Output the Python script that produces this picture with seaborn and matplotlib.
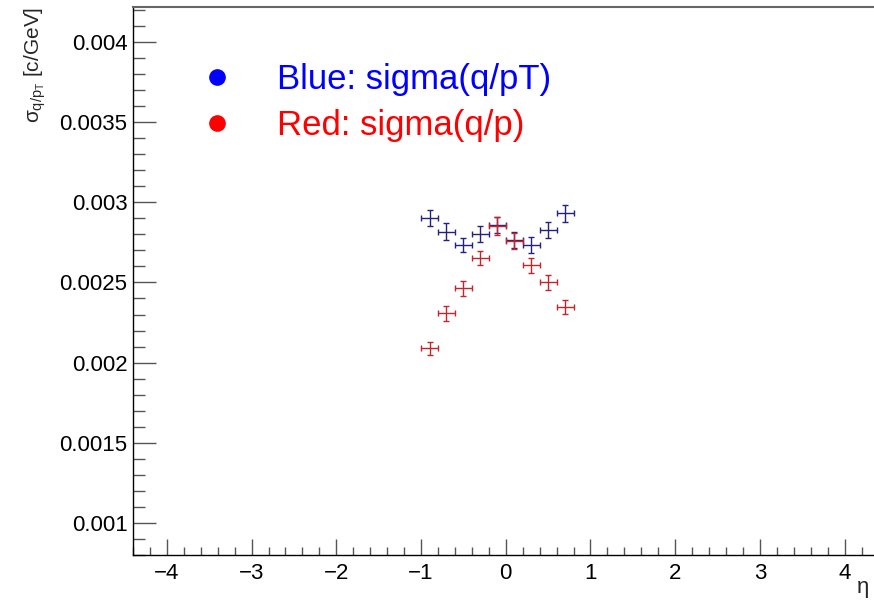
import seaborn as sns
import matplotlib.pyplot as plt
import matplotlib.ticker as mticker
from matplotlib.lines import Line2D
import pandas as pd

# данные: центры бинов по eta и разрешения
eta = [-0.9, -0.7, -0.5, -0.3, -0.1, 0.1, 0.3, 0.5, 0.7]
eta_halfwidth = [0.1] * 9
sigma_qpt = [0.002903, 0.002816, 0.002733, 0.002802, 0.002861,
             0.002764, 0.002733, 0.002827, 0.002931]
sigma_qpt_err = [0.000050, 0.000052, 0.000045, 0.000048, 0.000050,
                 0.000050, 0.000048, 0.000050, 0.000053]
sigma_qp = [0.002089, 0.002307, 0.002463, 0.002654, 0.002852,
            0.002758, 0.002608, 0.002501, 0.002345]
sigma_qp_err = [0.000040, 0.000047, 0.000045, 0.000045, 0.000055,
                0.000050, 0.000046, 0.000046, 0.000043]
legend_labels = ['Blue: sigma(q/pT)', 'Red: sigma(q/p)']

df = pd.DataFrame({'eta': eta, 'xerr': eta_halfwidth,
                   'qpt': sigma_qpt, 'qpt_err': sigma_qpt_err,
                   'qp': sigma_qp, 'qp_err': sigma_qp_err})

sns.set_theme(style="white")
plt.rcParams['font.family'] = ['Liberation Sans', 'DejaVu Sans']
plt.rcParams['mathtext.fontset'] = 'custom'
plt.rcParams['mathtext.rm'] = 'Liberation Sans'
plt.rcParams['mathtext.it'] = 'Liberation Sans'
plt.rcParams['axes.unicode_minus'] = True

fig = plt.figure(figsize=(8.74, 6.0), dpi=100)
ax = fig.add_axes([0.1522, 0.075, 0.8529, 0.9138])

blue = '#23237f'
red = '#c4242b'
ax.errorbar(df['eta'], df['qpt'], xerr=df['xerr'], yerr=df['qpt_err'],
            fmt='none', ecolor=blue, elinewidth=1.0, capsize=2.5, capthick=1.0)
ax.errorbar(df['eta'], df['qp'], xerr=df['xerr'], yerr=df['qp_err'],
            fmt='none', ecolor=red, elinewidth=1.0, capsize=2.5, capthick=1.0)

ax.set_xlim(-4.4, 4.4)
ax.set_ylim(0.0008, 0.00422)

ax.xaxis.set_major_locator(mticker.MultipleLocator(1))
ax.xaxis.set_minor_locator(mticker.MultipleLocator(0.2))
ax.yaxis.set_major_locator(mticker.MultipleLocator(0.0005))
ax.yaxis.set_minor_locator(mticker.MultipleLocator(0.0001))
ax.yaxis.set_major_formatter(mticker.FuncFormatter(lambda v, p: '%g' % v))

# тики внутрь, как в ROOT
ax.tick_params(axis='both', which='both', direction='in', color='#555555',
               width=1.0, labelsize=16, labelcolor='black',
               bottom=True, left=True, top=False, right=False)
ax.tick_params(axis='x', which='major', length=11.5, pad=6)
ax.tick_params(axis='x', which='minor', length=5.8)
ax.tick_params(axis='y', which='major', length=16.5, pad=4)
ax.tick_params(axis='y', which='minor', length=8.4)

for side in ['left', 'bottom']:
    ax.spines[side].set_color('black')
    ax.spines[side].set_linewidth(1.0)
ax.spines['top'].set_color('#666666')
ax.spines['top'].set_linewidth(1.5)
ax.spines['right'].set_visible(False)

ax.set_xlabel('η', fontsize=16, ha='right')
ax.xaxis.set_label_coords(0.988, -0.040)
ax.set_ylabel(r'$\sigma_{q/p_{T}}$ [c/GeV]', fontsize=15, loc='top', labelpad=8)

handles = [Line2D([], [], ls='none', marker='o', markersize=11, color='#0000ff'),
           Line2D([], [], ls='none', marker='o', markersize=11, color='#ff0000')]
ax.legend(handles, legend_labels, loc='upper left', bbox_to_anchor=(0.09, 0.897),
          frameon=False, fontsize=25, labelcolor=['#0000ff', '#ff0000'],
          handlelength=1.0, handletextpad=1.2, labelspacing=0.38,
          borderpad=0, borderaxespad=0)

fig.savefig('out.png', dpi=100)
